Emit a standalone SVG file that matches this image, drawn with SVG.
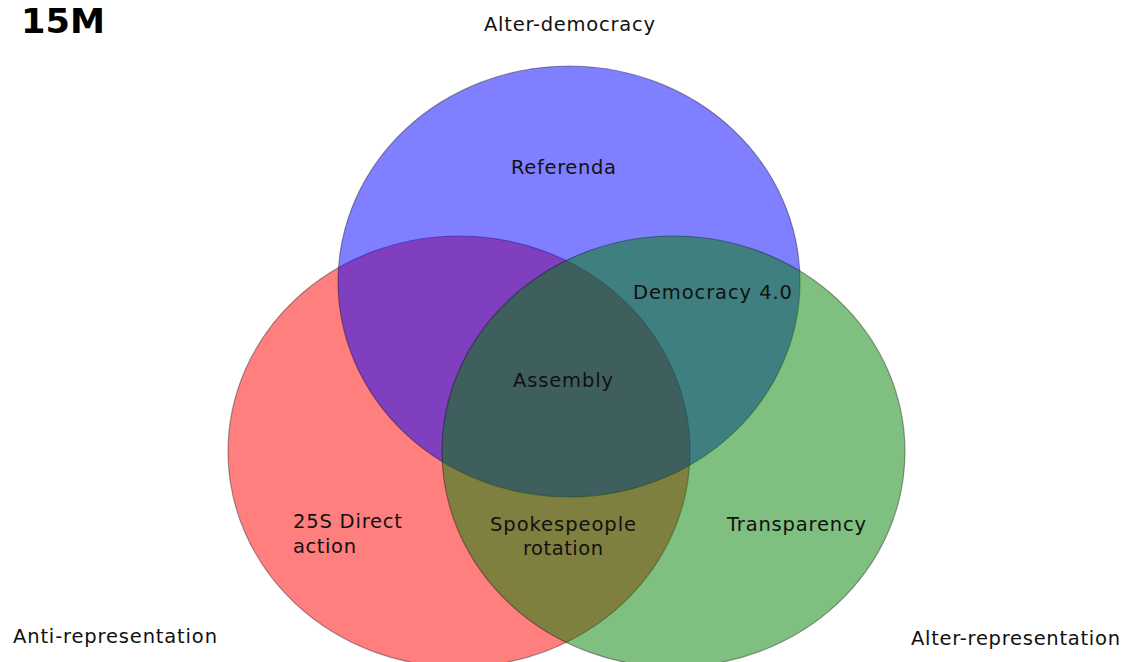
<svg xmlns="http://www.w3.org/2000/svg" width="1124" height="662" viewBox="0 0 1124 662">
<style>
.set{stroke:#000;stroke-opacity:0.35;stroke-width:1.2;fill-opacity:0.5}
.lbl{font-family:"DejaVu Sans","Liberation Sans",sans-serif;font-size:19.5px;fill:#111}
.title{font-family:"DejaVu Sans","Liberation Sans",sans-serif;font-size:33px;font-weight:bold;fill:#000}
</style>
<rect width="1124" height="662" fill="#fff"/>
<g id="set-anti-representation">
<ellipse class="set" cx="459" cy="451.5" rx="231" ry="215.5" fill="#ff0000"/>
</g>
<g id="set-alter-democracy">
<ellipse class="set" cx="569" cy="281.5" rx="231" ry="215.5" fill="#0000ff"/>
</g>
<g id="set-alter-representation">
<ellipse class="set" cx="673.5" cy="451.5" rx="231.5" ry="215.5" fill="#008000"/>
</g>
<g id="title"><text class="title" x="21" y="33" textLength="84" lengthAdjust="spacingAndGlyphs">15M</text></g>
<g id="label-alter-democracy"><text class="lbl" x="484" y="31" textLength="171">Alter-democracy</text></g>
<g id="label-anti-representation"><text class="lbl" x="13" y="643" textLength="204">Anti-representation</text></g>
<g id="label-alter-representation"><text class="lbl" x="911" y="645" textLength="209">Alter-representation</text></g>
<g id="region-referenda"><text class="lbl" x="511" y="174" textLength="105">Referenda</text></g>
<g id="region-democracy"><text class="lbl" x="633" y="299" textLength="159">Democracy 4.0</text></g>
<g id="region-assembly"><text class="lbl" x="513" y="387" textLength="100">Assembly</text></g>
<g id="region-direct-action"><text class="lbl" x="293" y="528" textLength="109">25S Direct</text><text class="lbl" x="293" y="553" textLength="63">action</text></g>
<g id="region-spokespeople"><text class="lbl" x="490" y="531" textLength="146">Spokespeople</text><text class="lbl" x="523" y="555" textLength="80">rotation</text></g>
<g id="region-transparency"><text class="lbl" x="727" y="531" textLength="139">Transparency</text></g>
</svg>
